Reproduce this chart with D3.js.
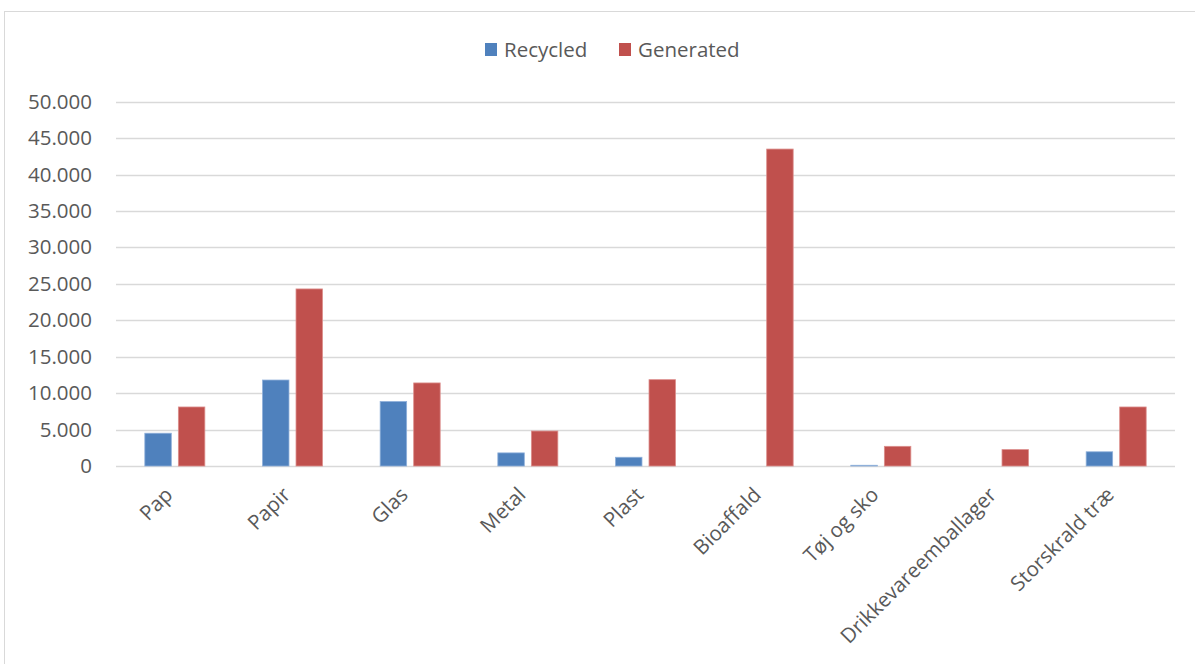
<!DOCTYPE html>
<html><head><meta charset="utf-8">
<script src="https://cdn.jsdelivr.net/npm/d3@7"></script>
<style>
html,body{margin:0;padding:0;background:#fff;}
svg{display:block;font-family:"Open Sans","Noto Sans",sans-serif;}
</style></head>
<body><svg id="chart" width="1195" height="664"></svg>
<script>
const categories = ["Pap","Papir","Glas","Metal","Plast","Bioaffald","Tøj og sko","Drikkevareemballager","Storskrald træ"];
const seriesNames = ["Recycled","Generated"];
const recycled = [4500, 11800, 8850, 1800, 1200, 0, 100, 0, 1950];
const generated = [8100, 24300, 11400, 4800, 11850, 43500, 2700, 2250, 8100];
const yTicks = [0,5000,10000,15000,20000,25000,30000,35000,40000,45000,50000];
const colors = ["#4f81bd","#c0504d"];
const strokes = ["#8fb0da","#dc8e8c"];

(function(){
const svg = d3.select("#chart");
const W = 1195, H = 664;
const mLeft = 116, mRight = 1175, mTop = 101.7, mBottom = 466;
const fs = "20.5px";

svg.append("rect").attr("x",4.5).attr("y",11.5).attr("width",W).attr("height",H)
  .attr("fill","#fff").attr("stroke","#d9d9d9").attr("stroke-width",1);

const x0 = d3.scaleBand().domain(categories).range([mLeft,mRight]).padding(0);
const bw = x0.bandwidth();
const x1 = d3.scaleBand().domain(seriesNames).range([bw*0.245, bw*0.755]).paddingInner(0.21).paddingOuter(0);
const y = d3.scaleLinear().domain([0,50000]).range([mBottom, mTop]);

const loc = d3.formatLocale({decimal:",", thousands:".", grouping:[3], currency:["","kr"]});
const fmt = loc.format(",.0f");

svg.append("g").selectAll("line").data(yTicks).join("line")
  .attr("x1",mLeft).attr("x2",mRight)
  .attr("y1",d=>Math.round(y(d))+0.5).attr("y2",d=>Math.round(y(d))+0.5)
  .attr("stroke","#d9d9d9").attr("stroke-width",1.5);

const yAxis = d3.axisLeft(y).tickValues(yTicks).tickFormat(fmt).tickSize(0).tickPadding(0);
const gy = svg.append("g").attr("transform",`translate(92,0)`).call(yAxis);
gy.select(".domain").remove();
gy.selectAll("text").attr("fill","#595959").style("font-size",fs).attr("font-family","'Open Sans',sans-serif");

const rows = categories.map((c,i)=>({cat:c, vals:[recycled[i], generated[i]]}));
const groups = svg.append("g").selectAll("g").data(rows).join("g")
  .attr("transform",d=>`translate(${x0(d.cat)},0)`);
groups.selectAll("rect").data(d=>d.vals.map((v,j)=>({s:seriesNames[j], v, j})))
  .join("rect")
  .attr("x",d=>x1(d.s)).attr("width",x1.bandwidth())
  .attr("y",d=>y(d.v)).attr("height",d=>mBottom - y(d.v))
  .attr("fill",d=>colors[d.j])
  .attr("stroke",d=>d.v>0?strokes[d.j]:"none").attr("stroke-width",0.8);

const xAxis = d3.axisBottom(x0).tickSize(0).tickPadding(0);
const gx = svg.append("g").attr("transform",`translate(0,${mBottom})`).call(xAxis);
gx.select(".domain").remove();
gx.selectAll("text")
  .attr("fill","#595959").style("font-size",fs).attr("font-family","'Open Sans',sans-serif")
  .attr("text-anchor","end").attr("dy","0.35em")
  .attr("transform","translate(-6,25) rotate(-45)");

const legendX = [485, 619];
const lg = svg.append("g").selectAll("g").data(seriesNames).join("g")
  .attr("transform",(d,i)=>`translate(${legendX[i]},43)`);
lg.append("rect").attr("width",12).attr("height",13).attr("fill",(d,i)=>colors[i]);
lg.append("text").attr("x",19).attr("y",6.5).attr("dy","0.35em")
  .attr("fill","#595959").style("font-size",fs).text(d=>d);
})();
</script>
</body></html>
